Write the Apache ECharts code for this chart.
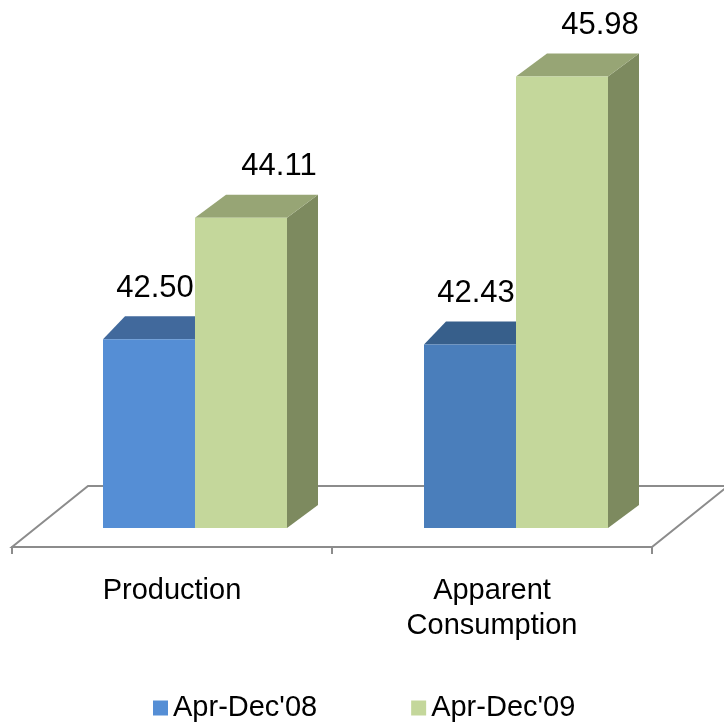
<!DOCTYPE html>
<html>
<head>
<meta charset="utf-8">
<script src="https://cdn.jsdelivr.net/npm/echarts@6/dist/echarts.min.js"></script>
<style>
  html, body { margin: 0; padding: 0; background: #fff; }
  #chart { width: 724px; height: 723px; }
</style>
</head>
<body>
<div id="chart"></div>
<script>
// data
const categories = ['Production', 'Apparent\nConsumption'];
const seriesNames = ["Apr-Dec'08", "Apr-Dec'09"];
const apr08 = [42.50, 42.43];
const apr09 = [44.11, 45.98];
const yMin = 40;
const yMax = 46.5;

// styles (front, top, side) per series / bar
const frontColors = [['#558ed5', '#4a7ebb'], ['#c4d79b', '#c4d79b']];
const topColors = [['#41699c', '#375f8b'], ['#97a575', '#97a575']];
const sideColors = ['#41699c', '#7d8a5f'];
const depthX = [22, 31];
const depthY = -23;

function renderBar(params, api) {
  const s = params.seriesIndex;
  const i = params.dataIndex;
  const cat = api.value(0);
  const val = api.value(1);
  const base = api.coord([cat, yMin]);
  const top = api.coord([cat, val]);
  const band = api.size([1, 0])[0];
  const bw = band * 0.2866;
  const x0 = base[0] - bw + s * bw;
  const x1 = x0 + bw;
  const yb = base[1];
  const yt = top[1];
  const dx = depthX[s];
  const dy = depthY;
  const labelDx = s === 0 ? 6 : 38;
  return {
    type: 'group',
    children: [
      {
        type: 'polygon',
        shape: { points: [[x1, yt], [x1 + dx, yt + dy], [x1 + dx, yb + dy], [x1, yb]] },
        style: { fill: sideColors[s] }
      },
      {
        type: 'polygon',
        shape: { points: [[x0, yt], [x1, yt], [x1 + dx, yt + dy], [x0 + dx, yt + dy]] },
        style: { fill: topColors[s][i] }
      },
      {
        type: 'rect',
        shape: { x: x0, y: yt, width: bw, height: yb - yt },
        style: { fill: frontColors[s][i] }
      },
      {
        type: 'text',
        x: (x0 + x1) / 2 + labelDx,
        y: yt - 51,
        style: {
          text: val.toFixed(2),
          fill: '#000',
          font: '31px "Liberation Sans", Arial, sans-serif',
          align: 'center',
          verticalAlign: 'middle'
        }
      }
    ]
  };
}

const chart = echarts.init(document.getElementById('chart'));
const option = {
  animation: false,
  backgroundColor: '#fff',
  textStyle: { fontFamily: '"Liberation Sans", Arial, sans-serif' },
  grid: [
    { left: 34.5, right: 47.5, top: 37.25, bottom: 195 }, // bars
    { left: 12, right: 72, top: 37, bottom: 176 }        // floor front edge + labels
  ],
  xAxis: [
    { type: 'category', gridIndex: 0, data: categories, show: false },
    {
      type: 'category',
      gridIndex: 1,
      data: categories,
      axisLine: { show: true, onZero: false, lineStyle: { color: '#8c8c8c', width: 2 } },
      axisTick: { show: true, length: 7, alignWithLabel: false, interval: 0, lineStyle: { color: '#8c8c8c', width: 2 } },
      axisLabel: {
        color: '#000',
        fontSize: 29,
        lineHeight: 35,
        margin: 26,
        interval: 0
      }
    }
  ],
  yAxis: [
    { type: 'value', gridIndex: 0, min: yMin, max: yMax, show: false },
    { type: 'value', gridIndex: 1, show: false }
  ],
  legend: {
    left: 148,
    top: 688,
    icon: 'rect',
    itemWidth: 15,
    itemHeight: 15,
    itemGap: 94,
    textStyle: { fontSize: 29, lineHeight: 30, color: '#000' },
    data: seriesNames
  },
  graphic: [
    {
      type: 'polygon',
      z: 0,
      shape: { points: [[12, 547], [88, 486], [728, 486], [652, 547]] },
      style: { fill: '#fff', stroke: '#8c8c8c', lineWidth: 2 }
    }
  ],
  series: [
    {
      name: seriesNames[0],
      type: 'custom',
      xAxisIndex: 0,
      yAxisIndex: 0,
      z: 5,
      itemStyle: { color: '#558ed5' },
      renderItem: renderBar,
      encode: { x: 0, y: 1 },
      data: apr08.map((v, i) => [i, v])
    },
    {
      name: seriesNames[1],
      type: 'custom',
      xAxisIndex: 0,
      yAxisIndex: 0,
      z: 5,
      itemStyle: { color: '#c4d79b' },
      renderItem: renderBar,
      encode: { x: 0, y: 1 },
      data: apr09.map((v, i) => [i, v])
    }
  ]
};
chart.setOption(option);
window.addEventListener('resize', () => {
  chart.resize();
});
</script>
</body>
</html>
